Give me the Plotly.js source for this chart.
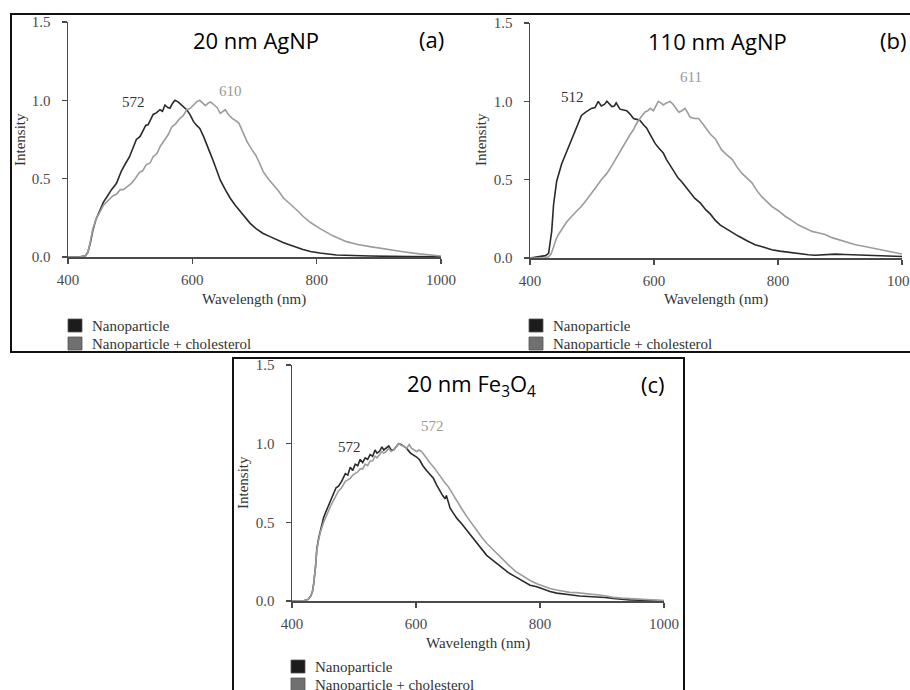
<!DOCTYPE html>
<html><head><meta charset="utf-8">
<script src="https://cdn.plot.ly/plotly-3.0.1.min.js"></script>
<style>body{margin:0;background:#fff}#chart{width:910px;height:690px}</style>
</head><body><div id="chart"></div>
<script>
// ---- Data ----
const seriesNames = ["Nanoparticle", "Nanoparticle + cholesterol"];
const panelTitles = ["20 nm AgNP", "110 nm AgNP", "20 nm Fe<sub>3</sub>O<sub>4</sub>"];
const panelTags = ["(a)", "(b)", "(c)"];
const xTicks = [400, 600, 800, 1000];
const yTicks = [0, 0.5, 1.0, 1.5];
const peakLabelsDark = ["572", "512", "572"];
const peakLabelsGray = ["610", "611", "572"];

const wlA1 = [400,420,428,432,436,440,445,451,457,462,470,478,486,493,499,505,510,516,521,525,529,533,537,542,548,552,556,560,564,568,572,577,583,591,596,602,607,612,618,623,629,634,640,645,653,661,669,677,685,693,703,714,725,736,746,757,766,778,790,805,832,860,886,950,1000];
const intA1 = [0,0.002,0.008,0.03,0.09,0.17,0.24,0.30,0.35,0.38,0.43,0.47,0.55,0.60,0.64,0.70,0.75,0.77,0.81,0.84,0.845,0.88,0.91,0.92,0.94,0.93,0.97,0.955,0.95,0.98,1.0,0.99,0.966,0.94,0.91,0.864,0.84,0.82,0.77,0.715,0.66,0.61,0.55,0.49,0.43,0.375,0.33,0.29,0.25,0.215,0.18,0.15,0.13,0.11,0.092,0.077,0.064,0.048,0.035,0.025,0.013,0.008,0.006,0.003,0.002];
const wlA2 = [400,420,428,432,436,440,445,451,457,462,467,472,478,484,489,495,502,508,515,520,526,532,537,543,549,556,561,567,573,580,585,591,597,602,607,612,617,621,625,629,634,640,645,649,653,658,664,670,675,681,688,695,702,708,714,722,731,739,747,757,768,778,790,805,826,848,866,886,910,939,965,1000];
const intA2 = [0,0.002,0.008,0.03,0.10,0.18,0.24,0.29,0.33,0.35,0.37,0.39,0.40,0.43,0.43,0.45,0.47,0.50,0.54,0.55,0.59,0.60,0.64,0.66,0.71,0.75,0.78,0.83,0.85,0.885,0.90,0.94,0.95,0.97,0.99,1.0,0.98,0.966,0.98,0.99,0.975,0.953,0.917,0.93,0.94,0.91,0.885,0.87,0.853,0.80,0.736,0.69,0.65,0.60,0.545,0.50,0.46,0.42,0.375,0.34,0.30,0.26,0.22,0.183,0.135,0.098,0.08,0.066,0.05,0.034,0.02,0.006];

const wlB1 = [400,416,425,430,435,438,443,451,459,467,475,483,491,499,505,510,515,520,524,528,532,536,539,545,550,556,561,567,572,577,583,588,595,602,608,615,620,626,632,639,645,650,656,661,666,675,683,691,699,707,715,725,736,750,763,776,790,803,817,833,849,860,871,882,892,908,925,950,975,1000];
const intB1 = [0,0.008,0.015,0.03,0.17,0.34,0.49,0.60,0.68,0.75,0.83,0.91,0.934,0.955,0.96,1.0,0.97,0.98,1.0,0.98,0.966,0.97,0.99,0.95,0.945,0.94,0.92,0.89,0.885,0.88,0.85,0.83,0.78,0.73,0.70,0.67,0.63,0.59,0.55,0.51,0.485,0.46,0.435,0.41,0.38,0.35,0.31,0.28,0.24,0.21,0.19,0.165,0.14,0.11,0.085,0.07,0.053,0.044,0.036,0.028,0.021,0.018,0.02,0.024,0.025,0.022,0.019,0.015,0.012,0.01];
const wlB2 = [400,425,430,434,438,442,446,452,459,467,475,483,491,499,507,515,524,532,540,547,553,561,567,572,579,586,590,594,599,603,607,611,615,620,626,631,636,640,645,650,654,658,665,672,678,683,691,699,704,709,717,726,734,742,750,758,766,774,782,790,801,812,822,833,844,855,866,876,887,898,911,925,938,952,965,979,990,1000];
const intB2 = [0,0.002,0.008,0.025,0.07,0.12,0.15,0.19,0.23,0.265,0.295,0.33,0.37,0.41,0.455,0.50,0.54,0.59,0.645,0.69,0.73,0.785,0.82,0.86,0.90,0.934,0.94,0.955,0.94,0.97,1.0,0.99,0.977,0.99,1.0,0.98,0.95,0.93,0.94,0.955,0.93,0.90,0.89,0.89,0.86,0.83,0.79,0.76,0.72,0.69,0.66,0.63,0.58,0.54,0.51,0.48,0.43,0.39,0.36,0.33,0.30,0.265,0.24,0.21,0.19,0.17,0.16,0.15,0.13,0.117,0.10,0.085,0.075,0.064,0.05,0.038,0.03,0.025];

const wlC1 = [400,420,426,430,433,435,438,440,443,446,451,455,459,463,467,471,475,480,486,490,494,498,502,506,510,514,518,522,526,530,534,537,541,545,548,552,556,560,564,568,572,576,580,585,591,596,601,606,611,617,622,628,633,639,643,647,649,652,655,660,666,674,682,690,698,706,714,722,730,740,749,760,773,784,795,805,816,827,838,851,864,878,891,905,918,932,945,970,1000];
const intC1 = [0,0.003,0.01,0.03,0.06,0.11,0.22,0.33,0.40,0.45,0.53,0.57,0.61,0.64,0.69,0.72,0.73,0.76,0.81,0.80,0.85,0.83,0.87,0.86,0.90,0.88,0.91,0.90,0.93,0.92,0.96,0.94,0.95,0.98,0.96,0.97,0.985,0.96,0.96,0.98,1.0,0.995,0.985,0.97,0.94,0.93,0.915,0.896,0.86,0.83,0.81,0.78,0.74,0.695,0.67,0.65,0.67,0.63,0.59,0.56,0.525,0.49,0.45,0.41,0.367,0.33,0.29,0.265,0.24,0.21,0.18,0.155,0.125,0.10,0.09,0.075,0.06,0.05,0.043,0.038,0.032,0.03,0.028,0.022,0.017,0.011,0.007,0.004,0.002];
const wlC2 = [400,420,426,430,433,435,438,440,443,446,451,455,459,463,467,471,475,480,486,490,494,498,502,506,510,514,518,522,526,530,534,537,541,545,548,552,556,560,564,568,572,576,580,585,589,593,597,601,605,609,613,617,622,628,634,641,646,652,659,666,674,682,690,698,706,714,722,730,740,749,760,773,784,795,805,816,827,838,848,859,870,880,891,905,918,932,945,970,1000];
const intC2 = [0,0.003,0.01,0.03,0.06,0.11,0.22,0.32,0.39,0.44,0.50,0.54,0.58,0.61,0.64,0.67,0.70,0.72,0.76,0.77,0.78,0.80,0.81,0.82,0.84,0.84,0.87,0.86,0.89,0.89,0.92,0.91,0.93,0.95,0.94,0.95,0.97,0.95,0.96,0.98,1.0,0.99,0.985,0.97,0.995,0.97,0.96,0.95,0.96,0.95,0.93,0.907,0.88,0.854,0.82,0.78,0.755,0.727,0.68,0.63,0.585,0.536,0.49,0.45,0.405,0.367,0.335,0.30,0.265,0.23,0.19,0.155,0.13,0.11,0.095,0.08,0.07,0.06,0.055,0.053,0.05,0.045,0.04,0.033,0.023,0.018,0.015,0.008,0.003];

// ---- Layout / styling ----
const W = 910, H = 690;
const fx = p => p / W;
const fy = p => 1 - p / H;
const DARK = '#2a2a2a', GRAY = '#9c9c9c';
const SERIF = 'Liberation Serif, Times New Roman, serif';
const SANS = 'Open Sans, Lato, sans-serif';

const data = [
  [wlA1, intA1, wlA2, intA2],
  [wlB1, intB1, wlB2, intB2],
  [wlC1, intC1, wlC2, intC2]
];

// panel geometry in pixels
const geo = [
  {x0: 68, x1: 441, y0: 257, y1: 22},
  {x0: 530, x1: 902, y0: 258, y1: 23},
  {x0: 292, x1: 664, y0: 601, y1: 365}
];
const darkPos = [[506, 0.99], [468, 1.03], [493, 0.98]];
const grayPos = [[661, 1.06], [660, 1.155], [626, 1.11]];
const titlePos = [[702, 1.385], [703, 1.385], [690, 1.375]];
const tagPos = [[984, 1.39], [985, 1.39], [982, 1.38]];
const xTitlePx = [[254, 300], [716, 299], [478, 643]];
const yTitlePx = [[20, 140], [481, 140], [243, 483]];
const legPx = [[68, 319], [529, 319], [291, 660]];

const traces = [];
const layout = {
  width: W, height: H,
  margin: {l: 0, r: 0, t: 0, b: 0, pad: 0},
  paper_bgcolor: '#fff', plot_bgcolor: 'rgba(0,0,0,0)',
  showlegend: false,
  annotations: [],
  shapes: []
};

data.forEach((d, i) => {
  const sfx = i === 0 ? '' : String(i + 1);
  const g = geo[i];
  traces.push({x: d[0], y: d[1], type: 'scatter', mode: 'lines', name: seriesNames[0],
    xaxis: 'x' + sfx, yaxis: 'y' + sfx, line: {color: DARK, width: 1.6}, hoverinfo: 'skip'});
  traces.push({x: d[2], y: d[3], type: 'scatter', mode: 'lines', name: seriesNames[1],
    xaxis: 'x' + sfx, yaxis: 'y' + sfx, line: {color: GRAY, width: 1.6}, hoverinfo: 'skip'});
  const axCommon = {
    showline: true, linecolor: '#4a4a4a', linewidth: 1.5,
    ticks: 'outside', ticklen: 5, tickwidth: 1.5, tickcolor: '#4a4a4a',
    showgrid: false, zeroline: false, fixedrange: true,
    tickfont: {family: SERIF, size: 15, color: '#4a4a4a'}
  };
  layout['xaxis' + sfx] = Object.assign({}, axCommon, {
    domain: [fx(g.x0), fx(g.x1)], range: [400, 1000], tickvals: xTicks,
    anchor: 'y' + sfx, ticklabelstandoff: 3, ticklabeloverflow: 'allow'
  });
  layout['yaxis' + sfx] = Object.assign({}, axCommon, {
    domain: [fy(g.y0), fy(g.y1)], range: [0, 1.5], tickvals: yTicks, tickformat: '.1f',
    anchor: 'x' + sfx, ticklabelstandoff: 8
  });
  const xr = 'x' + sfx, yr = 'y' + sfx;
  layout.annotations.push(
    {xref: xr, yref: yr, x: darkPos[i][0], y: darkPos[i][1], text: peakLabelsDark[i], showarrow: false,
      font: {family: SERIF, size: 15, color: '#333'}},
    {xref: xr, yref: yr, x: grayPos[i][0], y: grayPos[i][1], text: peakLabelsGray[i], showarrow: false,
      font: {family: SERIF, size: 15, color: '#999'}},
    {xref: xr, yref: yr, x: titlePos[i][0], y: titlePos[i][1], text: panelTitles[i], showarrow: false,
      font: {family: SANS, size: 22, color: '#000'}},
    {xref: xr, yref: yr, x: tagPos[i][0], y: tagPos[i][1], text: panelTags[i], showarrow: false,
      font: {family: SANS, size: 22, color: '#000'}},
    {xref: 'paper', yref: 'paper', x: fx(xTitlePx[i][0]), y: fy(xTitlePx[i][1]), text: 'Wavelength (nm)',
      showarrow: false, xanchor: 'center', yanchor: 'middle', font: {family: SERIF, size: 15, color: '#333'}},
    {xref: 'paper', yref: 'paper', x: fx(yTitlePx[i][0]), y: fy(yTitlePx[i][1]), text: 'Intensity',
      textangle: -90, showarrow: false, xanchor: 'center', yanchor: 'middle', font: {family: SERIF, size: 15, color: '#333'}}
  );
  // legend swatches and labels
  const lx = legPx[i][0], ly = legPx[i][1];
  const swCols = ['#1c1c1c', '#707070'];
  seriesNames.forEach((nm, k) => {
    const top = ly + k * 18;
    layout.shapes.push({type: 'rect', xref: 'paper', yref: 'paper',
      x0: fx(lx), x1: fx(lx + 14), y0: fy(top + 13), y1: fy(top),
      fillcolor: swCols[k], line: {color: '#555', width: 0.8}});
    layout.annotations.push({xref: 'paper', yref: 'paper', x: fx(lx + 22), y: fy(top + 6.5),
      text: nm, showarrow: false, xanchor: 'left', yanchor: 'middle',
      font: {family: SERIF, size: 15, color: '#333'}});
  });
});

// figure frames
layout.shapes.push(
  {type: 'rect', xref: 'paper', yref: 'paper', x0: fx(11), x1: fx(915), y0: fy(352), y1: fy(14),
    line: {color: '#111', width: 2}, fillcolor: 'rgba(0,0,0,0)'},
  {type: 'rect', xref: 'paper', yref: 'paper', x0: fx(233), x1: fx(684), y0: fy(700), y1: fy(358),
    line: {color: '#111', width: 2}, fillcolor: 'rgba(0,0,0,0)'}
);

Plotly.newPlot('chart', traces, layout, {staticPlot: true, displayModeBar: false});
</script>
</body></html>
